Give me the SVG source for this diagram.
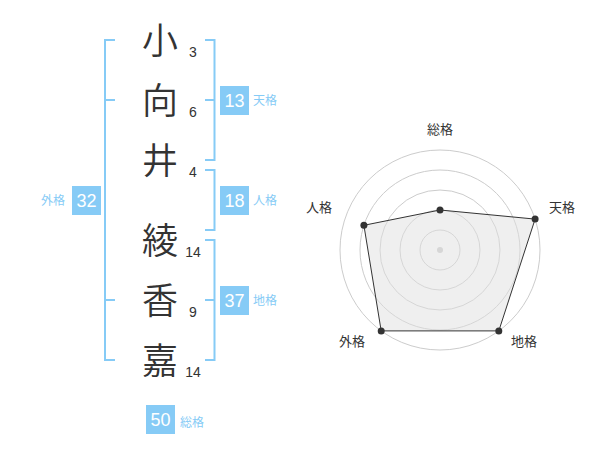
<svg xmlns="http://www.w3.org/2000/svg" width="600" height="470" viewBox="0 0 600 470">
<style>
.kanji{font-family:"Noto Sans CJK JP","Noto Sans CJK SC",sans-serif;font-size:36px;font-weight:350;fill:#333;text-anchor:middle}
.strokes{font-family:"Liberation Sans",Arial,sans-serif;font-size:14px;fill:#333;text-anchor:middle}
.br{fill:none;stroke:#86cbf6;stroke-width:2}
.box{fill:#86cbf6}
.num{font-family:"Liberation Sans",Arial,sans-serif;font-size:18px;fill:#fff;text-anchor:middle}
.lbl{font-family:"Noto Sans CJK JP","Noto Sans CJK SC",sans-serif;font-size:12px;fill:#86cbf6}
.rlbl{font-family:"Noto Sans CJK JP","Noto Sans CJK SC",sans-serif;font-size:13px;fill:#333;text-anchor:middle}
.ring{fill:none;stroke:#cccccc;stroke-width:1}
.dot{fill:#333}
</style>
<rect width="600" height="470" fill="#fff"/>
<g id="chars">
<g id="c1"><text class="kanji" x="160" y="54">小</text><text class="strokes" x="193" y="57">3</text></g>
<g id="c2"><text class="kanji" x="160" y="114">向</text><text class="strokes" x="193" y="117">6</text></g>
<g id="c3"><text class="kanji" x="160" y="174">井</text><text class="strokes" x="193" y="177">4</text></g>
<g id="c4"><text class="kanji" x="160" y="254">綾</text><text class="strokes" x="193" y="257">14</text></g>
<g id="c5"><text class="kanji" x="160" y="314">香</text><text class="strokes" x="193" y="317">9</text></g>
<g id="c6"><text class="kanji" x="160" y="374">嘉</text><text class="strokes" x="193" y="377">14</text></g>
</g>
<g id="connectors">
<path class="br" d="M115,40 H105 V360 H115 M105,100 H115 M105,300 H115"/>
<path class="br" d="M205,40 H214.5 V160 H205 M214.5,100 H205"/>
<path class="br" d="M205,170 H214.5 V230 H205"/>
<path class="br" d="M205,240 H214.5 V360 H205 M214.5,300 H205"/>
</g>
<g id="tenkaku"><rect class="box" x="220" y="86" width="29" height="29"/><text class="num" x="234.5" y="107">13</text><text class="lbl" x="253" y="105">天格</text></g>
<g id="jinkaku"><rect class="box" x="220" y="186" width="29" height="29"/><text class="num" x="234.5" y="207">18</text><text class="lbl" x="253" y="205">人格</text></g>
<g id="chikaku"><rect class="box" x="220" y="286" width="29" height="29"/><text class="num" x="234.5" y="307">37</text><text class="lbl" x="253" y="305">地格</text></g>
<g id="gaikaku"><rect class="box" x="72" y="186" width="29" height="29"/><text class="num" x="86.5" y="207">32</text><text class="lbl" x="41" y="205">外格</text></g>
<g id="soukaku"><rect class="box" x="146" y="405" width="29" height="29"/><text class="num" x="160.5" y="426">50</text><text class="lbl" x="180" y="427">総格</text></g>
<g id="radar">
<circle class="ring" cx="440" cy="250" r="20"/>
<circle class="ring" cx="440" cy="250" r="40"/>
<circle class="ring" cx="440" cy="250" r="60"/>
<circle class="ring" cx="440" cy="250" r="80"/>
<circle class="ring" cx="440" cy="250" r="100"/>
<circle cx="440" cy="250" r="3" fill="#cccccc"/>
<polygon points="440,210 535.1,219.1 498.8,330.9 381.2,330.9 363.9,225.3" fill="#e0e0e0" fill-opacity="0.5" stroke="#333" stroke-width="1"/>
<circle class="dot" cx="440" cy="210" r="3.5"/>
<circle class="dot" cx="535.1" cy="219.1" r="3.5"/>
<circle class="dot" cx="498.8" cy="330.9" r="3.5"/>
<circle class="dot" cx="381.2" cy="330.9" r="3.5"/>
<circle class="dot" cx="363.9" cy="225.3" r="3.5"/>
<text class="rlbl" x="440" y="134">総格</text>
<text class="rlbl" x="562" y="212">天格</text>
<text class="rlbl" x="524" y="346">地格</text>
<text class="rlbl" x="352" y="346">外格</text>
<text class="rlbl" x="319" y="212">人格</text>
</g>
</svg>
